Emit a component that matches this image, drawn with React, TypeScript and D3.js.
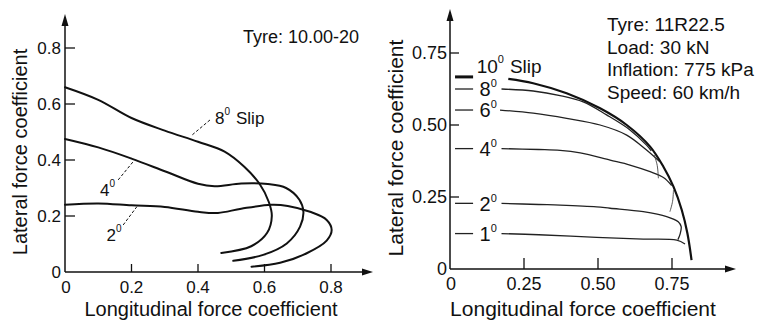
import React from "react";
import * as d3 from "d3";

// ---- left panel: Tyre 10.00-20 ----
const leftXTicks = [0.2, 0.4, 0.6, 0.8];
const leftYTicks = [0.2, 0.4, 0.6, 0.8];
const slip8L: [number, number][] = [
  [0, 0.66], [0.1, 0.615], [0.2, 0.55], [0.3, 0.505], [0.4, 0.465], [0.48, 0.43],
  [0.54, 0.375], [0.585, 0.315], [0.613, 0.25], [0.622, 0.2], [0.608, 0.14],
  [0.56, 0.092], [0.47, 0.068],
];
const slip4L: [number, number][] = [
  [0, 0.475], [0.1, 0.445], [0.2, 0.405], [0.3, 0.36], [0.4, 0.315], [0.45, 0.306],
  [0.53, 0.316], [0.61, 0.314], [0.665, 0.3], [0.705, 0.258], [0.717, 0.215],
  [0.707, 0.162], [0.667, 0.102], [0.596, 0.061], [0.506, 0.04],
];
const slip2L: [number, number][] = [
  [0, 0.24], [0.1, 0.245], [0.2, 0.238], [0.3, 0.232], [0.4, 0.215], [0.46, 0.211],
  [0.53, 0.226], [0.62, 0.24], [0.67, 0.236], [0.737, 0.215], [0.787, 0.186],
  [0.802, 0.15], [0.787, 0.112], [0.727, 0.067], [0.647, 0.033], [0.561, 0.019],
];
// label anchor (data units), leader from / to
const leftLabels = [
  { num: "8", rest: "Slip", at: [0.451, 0.53], from: [0.436, 0.543], to: [0.382, 0.489] },
  { num: "4", rest: "", at: [0.105, 0.27], from: [0.16, 0.329], to: [0.205, 0.394] },
  { num: "2", rest: "", at: [0.125, 0.109], from: [0.175, 0.168], to: [0.216, 0.233] },
];

// ---- right panel: Tyre 11R22.5 ----
const rightXTicks = [0.25, 0.5, 0.75];
const rightYTicks = [0.25, 0.5, 0.75];
const env10: [number, number][] = [
  [0.197, 0.66], [0.281, 0.645], [0.394, 0.61], [0.507, 0.558], [0.597, 0.5],
  [0.676, 0.425], [0.721, 0.355], [0.755, 0.286], [0.783, 0.205], [0.802, 0.124],
  [0.816, 0.031],
];
const slip8R: [number, number][] = [
  [0.174, 0.625], [0.281, 0.618], [0.372, 0.602], [0.45, 0.58], [0.529, 0.535],
  [0.608, 0.483], [0.664, 0.43], [0.68, 0.41],
];
const slip6R: [number, number][] = [
  [0.169, 0.552], [0.281, 0.541], [0.394, 0.523], [0.507, 0.5], [0.597, 0.465],
  [0.664, 0.413], [0.709, 0.372],
];
const slip4R: [number, number][] = [
  [0.174, 0.418], [0.3, 0.415], [0.372, 0.412], [0.44, 0.403], [0.541, 0.378],
  [0.608, 0.361], [0.676, 0.338], [0.721, 0.318], [0.749, 0.29],
];
const slip2R: [number, number][] = [
  [0.174, 0.228], [0.3, 0.224], [0.372, 0.222], [0.495, 0.216], [0.541, 0.211],
  [0.653, 0.199], [0.732, 0.182], [0.771, 0.164], [0.781, 0.147], [0.777, 0.12],
  [0.77, 0.102],
];
const slip1R: [number, number][] = [
  [0.174, 0.123], [0.3, 0.119], [0.495, 0.11], [0.653, 0.104], [0.766, 0.1], [0.794, 0.087],
];
const hooksR: [number, number][][] = [
  [[0.69, 0.396], [0.7, 0.36], [0.704, 0.315]],
  [[0.755, 0.274], [0.752, 0.235], [0.743, 0.199]],
];
const rightSeries = [
  { name: "8", pts: slip8R },
  { name: "6", pts: slip6R },
  { name: "4", pts: slip4R },
  { name: "2", pts: slip2R },
  { name: "1", pts: slip1R },
];
const tyreInfo = ["Tyre: 11R22.5", "Load: 30 kN", "Inflation: 775 kPa", "Speed: 60 km/h"];

const FONT = "'Liberation Sans', Arial, Helvetica, sans-serif";
const INK = "#111";

export default function App() {
  // scales
  const xL = d3.scaleLinear().domain([0, 0.8]).range([65, 331]);
  const yL = d3.scaleLinear().domain([0, 0.8]).range([272, 48]);
  const xR = d3.scaleLinear().domain([0, 0.75]).range([450, 672]);
  const yR = d3.scaleLinear().domain([0, 0.75]).range([269, 53]);

  const lineL = d3.line<[number, number]>().x((d) => xL(d[0])).y((d) => yL(d[1])).curve(d3.curveCatmullRom.alpha(0.5));
  const lineR = d3.line<[number, number]>().x((d) => xR(d[0])).y((d) => yR(d[1])).curve(d3.curveCatmullRom.alpha(0.5));

  const fmtL = d3.format(".1f");
  const fmtR = d3.format(".2f");

  return (
    <svg width={762} height={320} style={{ position: "absolute", left: 0, top: 0, background: "#fff" }} fontFamily={FONT}>
      {/* ===== Left panel ===== */}
      <g>
        {/* axes */}
        <line x1={xL(0)} x2={366} y1={yL(0)} y2={yL(0)} stroke={INK} strokeWidth={1.5} />
        <path d={`M${373},${yL(0)} L${362},${yL(0) - 3.5} L${362},${yL(0) + 3.5} Z`} fill={INK} />
        <line x1={xL(0)} x2={xL(0)} y1={yL(0)} y2={22} stroke={INK} strokeWidth={1.5} />
        <path d={`M${xL(0)},${14} L${xL(0) - 3.5},${26} L${xL(0) + 3.5},${26} Z`} fill={INK} />
        {leftXTicks.map((t) => (
          <line key={t} x1={xL(t)} x2={xL(t)} y1={yL(0)} y2={yL(0) - 8} stroke={INK} strokeWidth={1.3} />
        ))}
        {leftYTicks.map((t) => (
          <line key={t} x1={xL(0)} x2={xL(0) + 10} y1={yL(t)} y2={yL(t)} stroke={INK} strokeWidth={1.3} />
        ))}
        {/* tick labels */}
        {[0, ...leftXTicks].map((t) => (
          <text key={t} x={xL(t) + (t === 0 ? 1 : 0)} y={293} fontSize={17} textAnchor="middle" fill={INK}>
            {t === 0 ? "0" : fmtL(t)}
          </text>
        ))}
        {[0, ...leftYTicks].map((t) => (
          <text key={t} x={61} y={yL(t)} dy="0.36em" fontSize={17} textAnchor="end" fill={INK}>
            {t === 0 ? "0" : fmtL(t)}
          </text>
        ))}
        {/* titles */}
        <text x={211} y={316} fontSize={20} textAnchor="middle" fill={INK}>Longitudinal force coefficient</text>
        <text transform="translate(27,152) rotate(-90)" fontSize={20} textAnchor="middle" fill={INK}>Lateral force coefficient</text>
        <text x={243} y={43} fontSize={18} fill={INK}>Tyre: 10.00-20</text>

        {/* curves */}
        {[slip8L, slip4L, slip2L].map((pts, i) => (
          <path key={i} d={lineL(pts) ?? ""} fill="none" stroke={INK} strokeWidth={2} strokeLinecap="round" />
        ))}
        {/* labels with leaders */}
        {leftLabels.map((l) => (
          <g key={l.num}>
            <line x1={xL(l.from[0])} y1={yL(l.from[1])} x2={xL(l.to[0])} y2={yL(l.to[1])} stroke={INK} strokeWidth={1} strokeDasharray="3,2" />
            <text x={xL(l.at[0])} y={yL(l.at[1])} fontSize={17} fill={INK}>
              {l.num}
              <tspan dy={-9} fontSize={10}>0</tspan>
              {l.rest && <tspan dy={9} dx={6}>{l.rest}</tspan>}
            </text>
          </g>
        ))}
      </g>

      {/* ===== Right panel ===== */}
      <g>
        <line x1={xR(0)} x2={729} y1={yR(0)} y2={yR(0)} stroke={INK} strokeWidth={1.5} />
        <path d={`M${736},${yR(0)} L${725},${yR(0) - 3.5} L${725},${yR(0) + 3.5} Z`} fill={INK} />
        <line x1={xR(0)} x2={xR(0)} y1={yR(0)} y2={17} stroke={INK} strokeWidth={1.5} />
        <path d={`M${xR(0)},${9} L${xR(0) - 3.5},${21} L${xR(0) + 3.5},${21} Z`} fill={INK} />
        {rightXTicks.map((t) => (
          <line key={t} x1={xR(t)} x2={xR(t)} y1={yR(0)} y2={yR(0) - 11} stroke={INK} strokeWidth={1.3} />
        ))}
        {rightYTicks.map((t) => (
          <line key={t} x1={xR(0)} x2={xR(0) + 9} y1={yR(t)} y2={yR(t)} stroke={INK} strokeWidth={1.3} />
        ))}
        {[0, ...rightXTicks].map((t) => (
          <text key={t} x={xR(t) + (t === 0 ? 1 : 0)} y={290} fontSize={18} textAnchor="middle" fill={INK}>
            {t === 0 ? "0" : fmtR(t)}
          </text>
        ))}
        {[0, ...rightYTicks].map((t) => (
          <text key={t} x={447} y={yR(t)} dy="0.36em" fontSize={18} textAnchor="end" fill={INK}>
            {t === 0 ? "0" : fmtR(t)}
          </text>
        ))}
        <text x={583} y={316} fontSize={21} textAnchor="middle" fill={INK}>Longitudinal force coefficient</text>
        <text transform="translate(403,148) rotate(-90)" fontSize={21} textAnchor="middle" fill={INK}>Lateral force coefficient</text>
        {tyreInfo.map((s, i) => (
          <text key={s} x={607} y={31 + i * 22.5} fontSize={19} fill={INK}>{s}</text>
        ))}

        {/* envelope (10 deg) */}
        <path d={lineR(env10) ?? ""} fill="none" stroke={INK} strokeWidth={2.2} />
        <line x1={xR(0.017)} x2={xR(0.078)} y1={yR(0.667)} y2={yR(0.667)} stroke={INK} strokeWidth={3} />
        <text x={xR(0.09)} y={yR(0.679)} fontSize={19} fill={INK}>
          10<tspan dy={-10} fontSize={11}>0</tspan>
          <tspan dy={10} dx={6}>Slip</tspan>
        </text>

        {rightSeries.map((s) => (
          <g key={s.name}>
            <path d={lineR(s.pts) ?? ""} fill="none" stroke="#222" strokeWidth={1.3} />
            <line x1={xR(0.017)} x2={xR(0.078)} y1={yR(s.pts[0][1])} y2={yR(s.pts[0][1])} stroke="#222" strokeWidth={1.3} />
            <text x={xR(0.1)} y={yR(s.pts[0][1])} dy="0.36em" fontSize={20} fill={INK}>
              {s.name}
              <tspan dy={-9} fontSize={11}>0</tspan>
            </text>
          </g>
        ))}
        {hooksR.map((h, i) => (
          <path key={i} d={lineR(h) ?? ""} fill="none" stroke="#444" strokeWidth={0.9} />
        ))}
      </g>
    </svg>
  );
}
